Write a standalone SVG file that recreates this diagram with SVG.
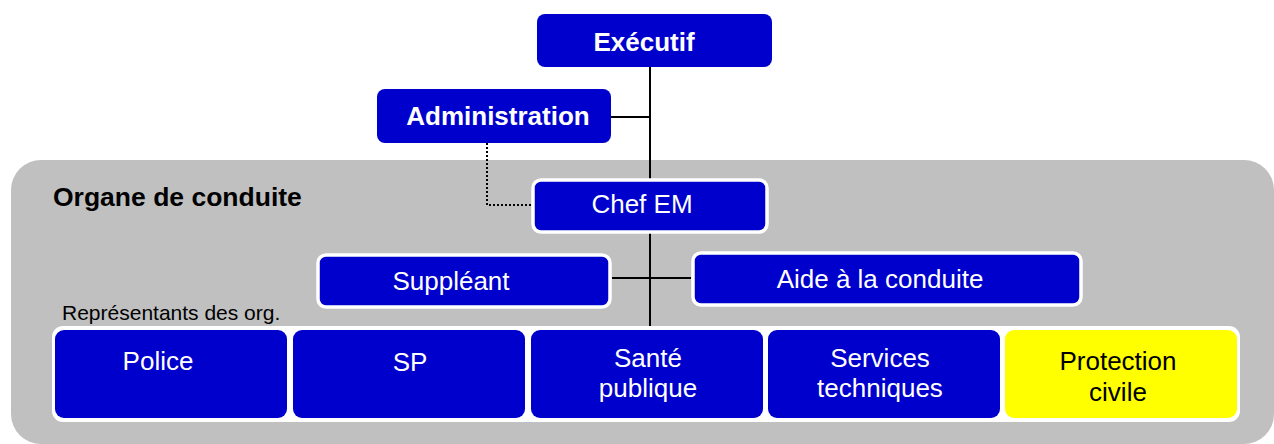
<svg xmlns="http://www.w3.org/2000/svg" width="1274" height="444" viewBox="0 0 1274 444">
<style>
.blue{fill:#0000CC}
.w{fill:#0000CC;stroke:#FFFFFF;stroke-width:3.5}
.t{font-family:"Liberation Sans",Arial,sans-serif;font-size:26px;fill:#FFFFFF;text-anchor:middle}
.b{font-weight:bold}
.line{stroke:#000000;stroke-width:2;fill:none}
</style>
<rect x="11" y="160" width="1263" height="284" rx="30" fill="#C0C0C0"/>
<text x="53" y="206" font-family="Liberation Sans, Arial, sans-serif" font-size="26.5" font-weight="bold" fill="#000">Organe de conduite</text>
<text x="62" y="320" font-family="Liberation Sans, Arial, sans-serif" font-size="21" fill="#000">Représentants des org.</text>
<g id="connectors">
<line class="line" x1="650" y1="67" x2="650" y2="326"/>
<line class="line" x1="611" y1="117" x2="650" y2="117"/>
<line class="line" x1="612" y1="278" x2="691" y2="278"/>
<polyline points="487,143 487,205 531,205" fill="none" stroke="#000" stroke-width="2" stroke-dasharray="2,2"/>
</g>
<g id="executif">
<rect class="blue" x="537" y="14" width="235" height="53" rx="8"/>
<text class="t b" x="644" y="51">Exécutif</text>
</g>
<g id="administration">
<rect class="blue" x="377" y="89" width="234" height="54" rx="8"/>
<text class="t b" x="498" y="125">Administration</text>
</g>
<g id="chef-em">
<rect class="w" x="533" y="180" width="234" height="52" rx="8"/>
<text class="t" x="642" y="213">Chef EM</text>
</g>
<g id="suppleant">
<rect class="w" x="318" y="255" width="292" height="52" rx="8"/>
<text class="t" x="451" y="290">Suppléant</text>
</g>
<g id="aide">
<rect class="w" x="693" y="253" width="388" height="52" rx="8"/>
<text class="t" x="880" y="288">Aide à la conduite</text>
</g>
<g id="representants">
<rect x="52" y="326" width="1188" height="96" rx="11" fill="#FFFFFF"/>
</g>
<g id="police">
<rect class="blue" x="55" y="330" width="232" height="88" rx="9"/>
<text class="t" x="158" y="370">Police</text>
</g>
<g id="sp">
<rect class="blue" x="293" y="330" width="232" height="88" rx="9"/>
<text class="t" x="410" y="371">SP</text>
</g>
<g id="sante">
<rect class="blue" x="531" y="330" width="232" height="88" rx="9"/>
<text class="t" x="648" y="367">Santé</text>
<text class="t" x="648" y="397">publique</text>
</g>
<g id="services">
<rect class="blue" x="768" y="330" width="232" height="88" rx="9"/>
<text class="t" x="880" y="367">Services</text>
<text class="t" x="880" y="397">techniques</text>
</g>
<g id="protection">
<rect x="1005" y="330" width="232" height="88" rx="9" fill="#FFFF00"/>
<text class="t" x="1118" y="370" style="fill:#000">Protection</text>
<text class="t" x="1118" y="401" style="fill:#000">civile</text>
</g>
</svg>
